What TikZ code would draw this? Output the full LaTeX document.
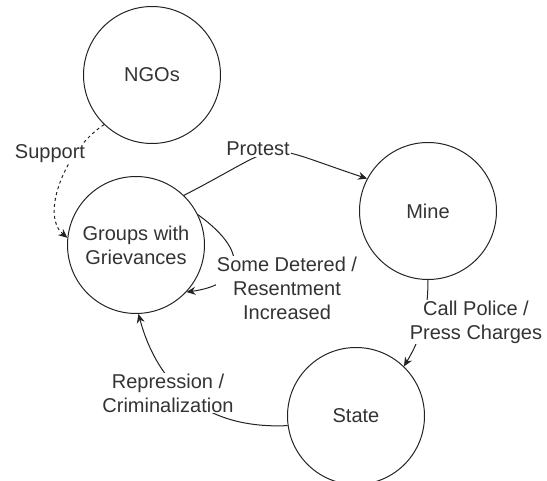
\documentclass[tikz,border=0pt]{standalone}
\usepackage{fontspec}
\setmainfont{Liberation Sans}
\usetikzlibrary{arrows.meta}
\definecolor{ink}{HTML}{222222}
\definecolor{txt}{HTML}{333333}
\tikzset{
  state/.style={circle, draw=ink, line width=1pt, minimum size=137pt, inner sep=0pt, align=center, text=txt, font=\fontsize{20}{24}\selectfont},
  lbl/.style={fill=white, inner sep=1pt, align=center, text=txt, font=\fontsize{20}{24}\selectfont},
  conn/.style={draw=ink, line width=1pt, -{Stealth[length=9pt,width=8pt]}},
  dconn/.style={conn, dash pattern=on 3pt off 3pt}
}
\begin{document}
\begin{tikzpicture}[x=1pt,y=-1pt]
\useasboundingbox (0,0) rectangle (547,481);
\node[state] (ngo) at (152,75) {NGOs};
\node[state] (grp) at (136,245) {Groups with\\Grievances};
\node[state] (mine) at (428,211) {Mine};
\node[state] (st) at (356,416) {State};
% connectors
\draw[dconn] (ngo.226) .. controls (65,150) and (40,215) .. (grp.174);
\draw[conn] (grp.46) .. controls (291,140) and (254,141) .. (mine.152);
\draw[conn] (grp.26) .. controls (255,256) and (238,285) .. (grp.-43);
\draw[conn] (mine.-90) .. controls (428,320) and (418,343) .. (st.46);
\draw[conn] (st.188) .. controls (195,430) and (155,375) .. (grp.-88);
% labels
\node[lbl] (lsup) at (50,154) {Support};
\node[lbl] (lpro) at (258,149) {Protest};
\node[lbl] (lsom) at (287,288) {Some Detered /\\Resentment\\Increased};
\node[lbl] (lcal) at (476,322) {Call Police /\\Press Charges};
\node[lbl] (lrep) at (168,393) {Repression /\\Criminalization};
\end{tikzpicture}
\end{document}
